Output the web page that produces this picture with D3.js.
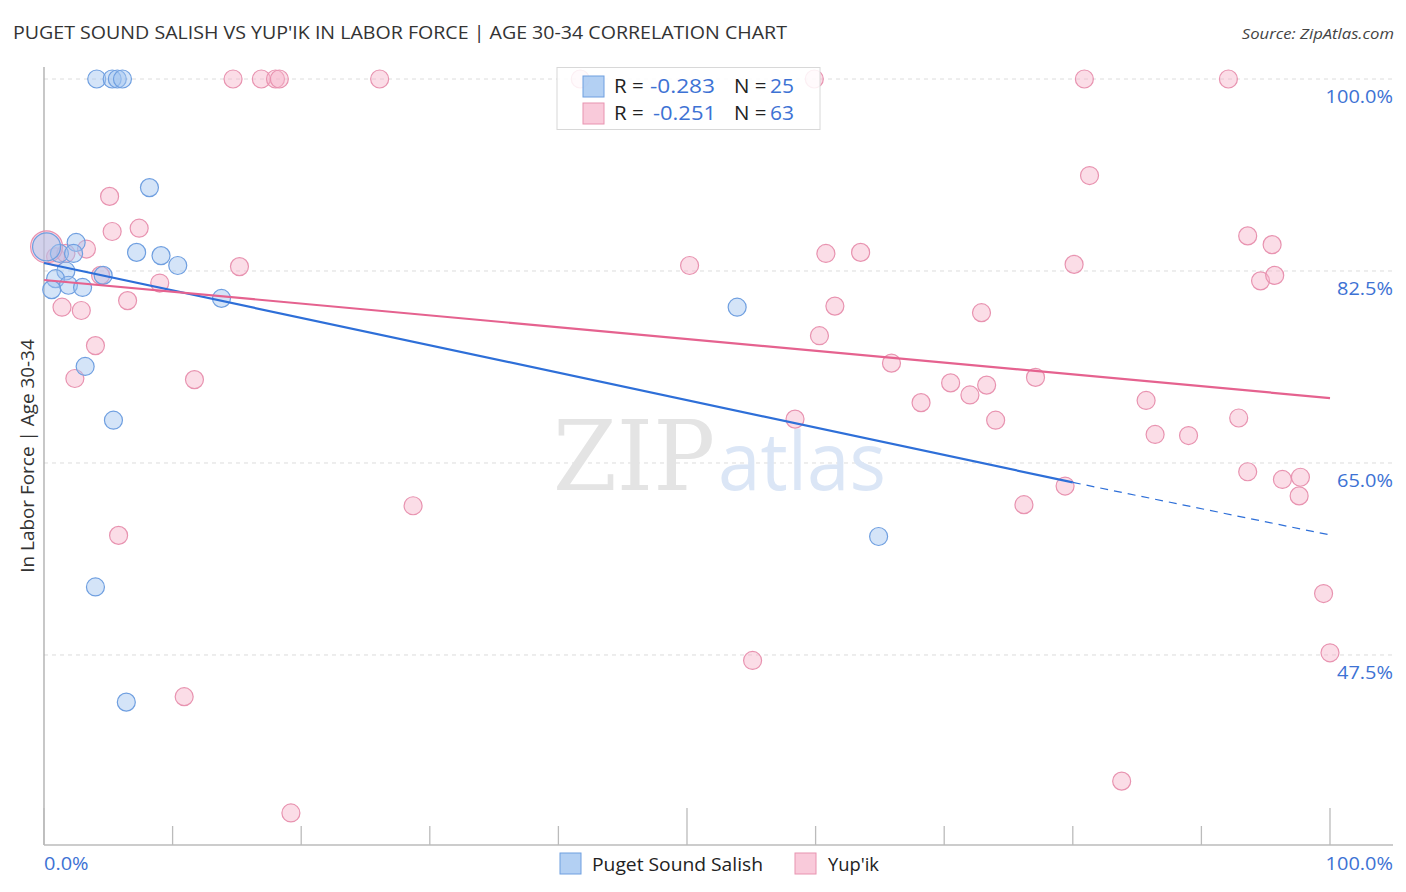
<!DOCTYPE html>
<html><head><meta charset="utf-8">
<script src="https://cdn.jsdelivr.net/npm/d3@7"></script>
<style>
body{margin:0;background:#fff;}
svg{display:block;font-family:"Open Sans","Noto Sans",sans-serif;}
</style></head>
<body>
<svg id="c" width="1406" height="892"></svg>
<script>
// ---- data (percent values) ----
const salishX = [4.1,5.3,5.7,6.1,8.2,2.5,1.2,2.3,7.2,9.1,10.4,1.7,4.6,0.9,1.9,3.0,0.6,13.8,53.9,3.2,5.4,64.9,4.0,6.4,0.2];
const salishY = [100,100,100,100,90.1,85.1,84.1,84.1,84.2,83.9,83.0,82.5,82.1,81.8,81.2,81.0,80.8,80.0,79.2,73.8,68.9,58.3,53.7,43.2,84.7];
const salishR = [9,9,9,9,9,9,9,9,9,9,9,9,9,9,9,9,9,9,9,9,9,9,9,9,14];

const yupikX = [14.7,16.9,18.0,18.3,26.1,41.7,59.9,80.9,92.1,
  5.1,5.3,7.4,3.3,0.9,1.7,15.2,4.4,9.0,6.5,1.4,2.9,4.0,2.4,11.7,5.8,10.9,19.2,28.7,0.2,
  50.2,60.8,63.5,61.5,60.3,72.9,65.9,70.5,73.3,72.0,68.2,74.0,58.4,77.1,76.2,55.1,83.8,
  81.3,93.6,95.5,80.1,94.6,95.7,85.7,92.9,86.4,89.0,93.6,96.3,97.7,97.6,79.4,99.5,100.0];
const yupikY = [100,100,100,100,100,100,100,100,100,
  89.3,86.1,86.4,84.5,83.8,84.1,82.9,82.1,81.4,79.8,79.2,78.9,75.7,72.7,72.6,58.4,43.7,33.1,61.1,84.7,
  83.0,84.1,84.2,79.3,76.6,78.7,74.1,72.3,72.1,71.2,70.5,68.9,69.0,72.8,61.2,47.0,36.0,
  91.2,85.7,84.9,83.1,81.6,82.1,70.7,69.1,67.6,67.5,64.2,63.5,63.7,62.0,62.9,53.1,47.7];
const yupikR = yupikX.map((d,i)=> i===28 ? 16 : 9);

const salishTrendX = [0, 80, 100];
const salishTrendY = [83.23, 63.23, 58.44];
const yupikTrendX = [0, 100];
const yupikTrendY = [81.68, 70.92];

const yTicks = [100, 82.5, 65, 47.5];
const yTickLabels = ["100.0%","82.5%","65.0%","47.5%"];
const xTicks = [0,10,20,30,40,50,60,70,80,90,100];
const xMajor = [0,50,100];
const xTickLabels = ["0.0%","100.0%"];
const seriesNames = ["Puget Sound Salish","Yup'ik"];
const rValues = ["-0.283","-0.251"];
const nValues = ["25","63"];

// ---- scales ----
const x = d3.scaleLinear().domain([0,100]).range([44,1330]);
const y = d3.scaleLinear().domain([30.18,100]).range([845,79]);

const svg = d3.select("#c");
const blueFill="rgba(160,196,240,0.45)", blueStroke="#6f9fe0";
const pinkFill="rgba(246,180,202,0.45)", pinkStroke="#e893b0";
const blueLine="#2e6fd8", pinkLine="#e5628f";
const tickBlue="#3d72d4";

// widen a text element to match the reference's wider typeface
function widen(sel, f){
  sel.each(function(){
    const w = this.getComputedTextLength();
    d3.select(this).attr("textLength", w*f).attr("lengthAdjust","spacingAndGlyphs");
  });
  return sel;
}

// title
svg.append("text").attr("x",13).attr("y",39).attr("font-size",17.5).attr("fill","#333")
  .attr("textLength",774).attr("lengthAdjust","spacingAndGlyphs")
  .text("PUGET SOUND SALISH VS YUP'IK IN LABOR FORCE | AGE 30-34 CORRELATION CHART");
widen(svg.append("text").attr("x",1394).attr("y",39).attr("font-size",15).attr("fill","#444")
  .attr("font-style","italic").attr("text-anchor","end").text("Source: ZipAtlas.com"),1.11);

// gridlines
svg.append("g").selectAll("line").data(yTicks).join("line")
  .attr("x1",44).attr("x2",1393).attr("y1",d=>y(d)).attr("y2",d=>y(d))
  .attr("stroke","#dcdcdc").attr("stroke-dasharray","4,4").attr("stroke-width",1);

// y tick labels
widen(svg.append("g").selectAll("text").data(yTicks).join("text")
  .attr("x",1393).attr("y",(d)=>y(d)+24).attr("text-anchor","end")
  .attr("font-size",17.5).attr("fill",tickBlue).text((d,i)=>yTickLabels[i]),1.14);

// axes
svg.append("line").attr("x1",44).attr("x2",44).attr("y1",67).attr("y2",845).attr("stroke","#aaa").attr("stroke-width",1.3);
svg.append("line").attr("x1",44).attr("x2",1393).attr("y1",845).attr("y2",845).attr("stroke","#bbb").attr("stroke-width",1.3);
svg.append("g").selectAll("line").data(xTicks).join("line")
  .attr("x1",d=>x(d)).attr("x2",d=>x(d)).attr("y1",d=>xMajor.includes(d)?808:826).attr("y2",845)
  .attr("stroke","#bbb").attr("stroke-width",1.3);
widen(svg.append("text").attr("x",44).attr("y",870).attr("font-size",17.5).attr("fill",tickBlue).text(xTickLabels[0]),1.14);
widen(svg.append("text").attr("x",1393).attr("y",870).attr("text-anchor","end").attr("font-size",17.5).attr("fill",tickBlue).text(xTickLabels[1]),1.14);

// y axis title
widen(svg.append("text").attr("transform","translate(34,456) rotate(-90)").attr("text-anchor","middle")
  .attr("font-size",18).attr("fill","#333").text("In Labor Force | Age 30-34"),1.05);

// watermark
svg.append("text").attr("x",553).attr("y",490).attr("font-family","'DejaVu Serif','Liberation Serif',serif")
  .attr("font-size",98).attr("fill","#e4e4e4").attr("textLength",162).attr("lengthAdjust","spacingAndGlyphs").text("ZIP");
svg.append("text").attr("x",718).attr("y",490).attr("font-size",80)
  .attr("fill","#dbe6f6").attr("textLength",168).attr("lengthAdjust","spacingAndGlyphs").text("atlas");

// points
const sal = salishX.map((d,i)=>({x:d,y:salishY[i],r:salishR[i]}));
const yup = yupikX.map((d,i)=>({x:d,y:yupikY[i],r:yupikR[i]}));
svg.append("g").selectAll("circle").data(yup).join("circle")
  .attr("cx",d=>x(d.x)).attr("cy",d=>y(d.y)).attr("r",d=>d.r)
  .attr("fill",pinkFill).attr("stroke",pinkStroke).attr("stroke-width",1.2);
svg.append("g").selectAll("circle").data(sal).join("circle")
  .attr("cx",d=>x(d.x)).attr("cy",d=>y(d.y)).attr("r",d=>d.r)
  .attr("fill",blueFill).attr("stroke",blueStroke).attr("stroke-width",1.2);

// trend lines
const line = d3.line().x(d=>x(d[0])).y(d=>y(d[1]));
svg.append("path").attr("d",line([[salishTrendX[0],salishTrendY[0]],[salishTrendX[1],salishTrendY[1]]]))
  .attr("stroke",blueLine).attr("stroke-width",2.2).attr("fill","none");
svg.append("path").attr("d",line([[salishTrendX[1],salishTrendY[1]],[salishTrendX[2],salishTrendY[2]]]))
  .attr("stroke",blueLine).attr("stroke-width",1.2).attr("fill","none").attr("stroke-dasharray","8,6");
svg.append("path").attr("d",line(yupikTrendX.map((d,i)=>[d,yupikTrendY[i]])))
  .attr("stroke",pinkLine).attr("stroke-width",2.2).attr("fill","none");

// top legend
const lg = svg.append("g");
lg.append("rect").attr("x",557).attr("y",67.5).attr("width",263).attr("height",62)
  .attr("fill","rgba(255,255,255,0.85)").attr("stroke","#d8d8d8");
[0,1].forEach(i=>{
  const yy = 86 + i*27;
  lg.append("rect").attr("x",583).attr("y",yy-10).attr("width",21).attr("height",21)
    .attr("fill",i?"rgba(246,180,202,0.7)":"rgba(160,196,240,0.8)").attr("stroke",i?pinkStroke:blueStroke);
  widen(lg.append("text").attr("x",614).attr("y",yy+7).attr("font-size",19.5).attr("fill","#222").text("R = "),1.05);
  lg.append("text").attr("x",i?653:650).attr("y",yy+7).attr("font-size",19.5).attr("fill",tickBlue)
    .attr("textLength",i?63:65).attr("lengthAdjust","spacingAndGlyphs").text(rValues[i]);
  widen(lg.append("text").attr("x",734).attr("y",yy+7).attr("font-size",19.5).attr("fill","#222").text("N = "),1.05);
  lg.append("text").attr("x",770).attr("y",yy+7).attr("font-size",19.5).attr("fill",tickBlue)
    .attr("textLength",24).attr("lengthAdjust","spacingAndGlyphs").text(nValues[i]);
});

// bottom legend
const bl = svg.append("g");
[[560,592,171],[795,828,51]].forEach((p,i)=>{
  bl.append("rect").attr("x",p[0]).attr("y",853).attr("width",21).attr("height",21)
    .attr("fill",i?"rgba(246,180,202,0.7)":"rgba(160,196,240,0.8)").attr("stroke",i?pinkStroke:blueStroke);
  bl.append("text").attr("x",p[1]).attr("y",871).attr("font-size",18.5).attr("fill","#222")
    .attr("textLength",p[2]).attr("lengthAdjust","spacingAndGlyphs").text(seriesNames[i]);
});
</script>
</body></html>
